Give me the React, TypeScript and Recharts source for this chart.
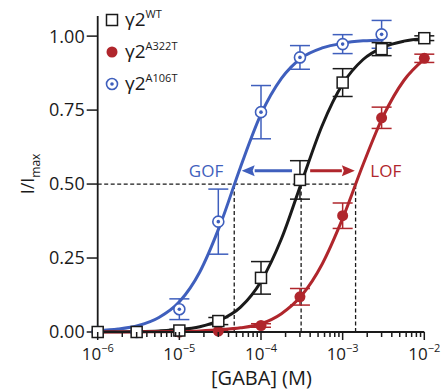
import {
  ComposedChart, Line, Scatter, XAxis, YAxis, ErrorBar,
  ReferenceLine, ReferenceDot, Legend,
} from 'recharts';

const FONT = '"Open Sans", "DejaVu Sans", sans-serif';
const INK = '#1a1a1a';
const RED = '#b0262c';
const BLUE = '#3f5fbd';

// measured points: concentration (M), mean and error
const doses = [1e-6, 3e-6, 1e-5, 3e-5, 1e-4, 3e-4, 1e-3, 3e-3, 1e-2];
const wtMean = [0, 0, 0.005, 0.037, 0.183, 0.514, 0.843, 0.956, 0.993];
const wtErr = [0, 0, 0.004, 0.012, 0.055, 0.065, 0.047, 0.022, 0.008];
const a322Mean = [0, 0, 0, 0.003, 0.022, 0.119, 0.393, 0.724, 0.925];
const a322Err = [0, 0, 0, 0.002, 0.006, 0.028, 0.043, 0.036, 0.014];
const a106Doses = [1e-6, 3e-6, 1e-5, 3e-5, 1e-4, 3e-4, 1e-3, 3e-3];
const a106Mean = [0, 0, 0.077, 0.373, 0.743, 0.928, 0.973, 1.006];
const a106Err = [0, 0, 0.035, 0.11, 0.09, 0.04, 0.032, 0.047];

// fitted curves
const curveX = [1e-6, 1.78e-6, 3.16e-6, 5.62e-6, 1e-5, 1.78e-5, 3.16e-5, 5.62e-5, 1e-4,
  1.78e-4, 3.16e-4, 5.62e-4, 1e-3, 1.78e-3, 3.16e-3, 5.62e-3, 1e-2];
const wtFit = [0.0003, 0.0007, 0.0016, 0.0037, 0.0081, 0.018, 0.040, 0.084, 0.171,
  0.315, 0.508, 0.698, 0.838, 0.921, 0.963, 0.983, 0.992];
const a322Fit = [0.0001, 0.0002, 0.0004, 0.0008, 0.0017, 0.0036, 0.0074, 0.014, 0.028,
  0.062, 0.124, 0.23, 0.384, 0.566, 0.731, 0.850, 0.922];
const a106Fit = [0.005, 0.010, 0.022, 0.049, 0.102, 0.203, 0.362, 0.558, 0.736,
  0.857, 0.927, 0.960, 0.976, 0.984, 0.987, null, null];

// EC50 guides and GOF / LOF annotations
const ec50 = [4.7e-5, 3.1e-4, 1.44e-3];
const gofArrow = [2.4e-4, 5.8e-5];
const lofArrow = [4.0e-4, 1.41e-3];
const arrowY = 0.545;
const gofLabel = { x: 2.12e-5, y: 0.524 };
const lofLabel = { x: 3.37e-3, y: 0.524 };

const yTicks = [0, 0.25, 0.5, 0.75, 1];
const decades = [1e-6, 1e-5, 1e-4, 1e-3, 1e-2];
const minorSteps = [2, 3, 4, 5, 6, 7, 8, 9];
const xTicks = decades.flatMap((d, i) =>
  i < decades.length - 1 ? [d, ...minorSteps.map(m => m * d)] : [d]);

const curveData = curveX.map((x, i) => ({ x, wt: wtFit[i], a322: a322Fit[i], a106: a106Fit[i] }));
const wtPts = doses.map((x, i) => ({ x, y: wtMean[i], err: wtErr[i] }));
const a322Pts = doses.map((x, i) => ({ x, y: a322Mean[i], err: a322Err[i] }));
const a106Pts = a106Doses.map((x, i) => ({ x, y: a106Mean[i], err: a106Err[i] }));

const legendRows = [
  { sup: 'WT', kind: 'square' },
  { sup: 'A322T', kind: 'filled' },
  { sup: 'A106T', kind: 'dotted' },
];

function Marker({ kind, cx, cy }: { kind: string; cx: number; cy: number }) {
  if (kind === 'square') {
    return <rect x={cx - 5.5} y={cy - 5.5} width={11} height={11} fill="#fff" stroke={INK} strokeWidth={1.5} />;
  }
  if (kind === 'filled') {
    return <circle cx={cx} cy={cy} r={5.5} fill={RED} />;
  }
  return (
    <g>
      <circle cx={cx} cy={cy} r={5.5} fill="#fff" stroke={BLUE} strokeWidth={1.6} />
      <circle cx={cx} cy={cy} r={1.8} fill={BLUE} />
    </g>
  );
}

const shapeFor = (kind: string) => (p: any) => <Marker kind={kind} cx={p.cx} cy={p.cy} />;

function XTick({ x, y, payload }: any) {
  const v = payload.value;
  const lg = Math.log10(v);
  const exp = Math.round(lg);
  const major = Math.abs(lg - exp) < 1e-6;
  return (
    <g>
      <line x1={x} x2={x} y1={y} y2={y + (major ? 8 : 5)} stroke={INK} strokeWidth={1.5} />
      {major && (
        <text x={x} y={y + 28} textAnchor="middle" fontSize={17} fill={INK} fontFamily={FONT}>
          10<tspan dy={-8} fontSize={11}>{'\u2212' + -exp}</tspan>
        </text>
      )}
    </g>
  );
}

const arrowShape = (color: string) => (p: any) => {
  const { x1, y1, x2, y2 } = p;
  const dir = Math.sign(x2 - x1);
  const head = 13;
  const baseX = x2 - dir * head;
  return (
    <g>
      <line x1={x1} y1={y1} x2={baseX} y2={y2} stroke={color} strokeWidth={3} />
      <polygon points={`${x2},${y2} ${baseX},${y2 - 5.5} ${baseX + dir * 2},${y2} ${baseX},${y2 + 5.5}`} fill={color} />
    </g>
  );
};

const textShape = (label: string, color: string) => (p: any) => (
  <text x={p.cx} y={p.cy} textAnchor="middle" fontSize={17} fill={color} fontFamily={FONT}>{label}</text>
);

function LegendBox() {
  const rowsY = [20, 52, 84];
  return (
    <svg width={120} height={100}>
      {legendRows.map((r, i) => (
        <g key={r.sup}>
          <Marker kind={r.kind} cx={12} cy={rowsY[i]} />
          <text x={25} y={rowsY[i] + 6} fontSize={19} fill={INK} fontFamily={FONT}>
            γ2<tspan dy={-8} fontSize={11}>{r.sup}</tspan>
          </text>
        </g>
      ))}
    </svg>
  );
}

function YLabel() {
  return (
    <text x={33.5} y={174} transform="rotate(-90, 33.5, 174)" textAnchor="middle"
      fontSize={18} fill={INK} fontFamily={FONT}>
      I/I<tspan dy={6} fontSize={12}>max</tspan>
    </text>
  );
}

function XLabel() {
  return (
    <text x={261.5} y={384.5} textAnchor="middle" fontSize={20} fill={INK} fontFamily={FONT}>
      [GABA] (M)
    </text>
  );
}

export default function App() {
  return (
    <div style={{ position: 'absolute', left: 0, top: 0, background: '#fff' }}>
      <ComposedChart width={442} height={390} data={curveData}
        margin={{ top: 16, right: 17.7, bottom: 0, left: 0 }}>
        <XAxis dataKey="x" type="number" scale="log" domain={[1e-6, 1e-2]}
          ticks={xTicks} interval={0} tick={<XTick />} tickLine={false} tickSize={0} tickMargin={0}
          axisLine={{ stroke: INK, strokeWidth: 1.8 }} height={58}
          label={{ content: () => <XLabel /> }} />
        <YAxis type="number" domain={[0, 1.068]} ticks={yTicks} width={97.7}
          tickFormatter={(v: number) => v.toFixed(2)} tickSize={11} tickMargin={2}
          tick={{ fontSize: 18, fill: INK, fontFamily: FONT }}
          tickLine={{ stroke: INK, strokeWidth: 1.5 }} axisLine={{ stroke: INK, strokeWidth: 1.8 }}
          label={{ content: () => <YLabel /> }} />
        <Legend layout="vertical" align="center" verticalAlign="middle"
          wrapperStyle={{ left: 100, top: 0, width: 120, height: 100 }} content={() => <LegendBox />} />

        <ReferenceLine segment={[{ x: 1e-6, y: 0.5 }, { x: ec50[2], y: 0.5 }]}
          stroke={INK} strokeWidth={1.3} strokeDasharray="4 2.5" />
        {ec50.map(e => (
          <ReferenceLine key={e} segment={[{ x: e, y: 0 }, { x: e, y: 0.5 }]}
            stroke={INK} strokeWidth={1.3} strokeDasharray="4 2.5" />
        ))}

        <Line dataKey="a106" type="monotone" stroke={BLUE} strokeWidth={3} dot={false} isAnimationActive={false} legendType="none" />
        <Line dataKey="wt" type="monotone" stroke={INK} strokeWidth={3} dot={false} isAnimationActive={false} legendType="none" />
        <Line dataKey="a322" type="monotone" stroke={RED} strokeWidth={3} dot={false} isAnimationActive={false} legendType="none" />

        <ReferenceLine segment={[{ x: gofArrow[0], y: arrowY }, { x: gofArrow[1], y: arrowY }]} shape={arrowShape(BLUE)} />
        <ReferenceLine segment={[{ x: lofArrow[0], y: arrowY }, { x: lofArrow[1], y: arrowY }]} shape={arrowShape(RED)} />
        <ReferenceDot x={gofLabel.x} y={gofLabel.y} shape={textShape('GOF', BLUE)} />
        <ReferenceDot x={lofLabel.x} y={lofLabel.y} shape={textShape('LOF', RED)} />

        <Scatter name="A322T" data={a322Pts} dataKey="y" shape={shapeFor('filled')} isAnimationActive={false}>
          <ErrorBar dataKey="err" direction="y" width={10} stroke={RED} strokeWidth={1.5} />
        </Scatter>
        <Scatter name="A106T" data={a106Pts} dataKey="y" shape={shapeFor('dotted')} isAnimationActive={false}>
          <ErrorBar dataKey="err" direction="y" width={10} stroke={BLUE} strokeWidth={1.5} />
        </Scatter>
        <Scatter name="WT" data={wtPts} dataKey="y" shape={shapeFor('square')} isAnimationActive={false}>
          <ErrorBar dataKey="err" direction="y" width={10} stroke={INK} strokeWidth={1.5} />
        </Scatter>
      </ComposedChart>
    </div>
  );
}
